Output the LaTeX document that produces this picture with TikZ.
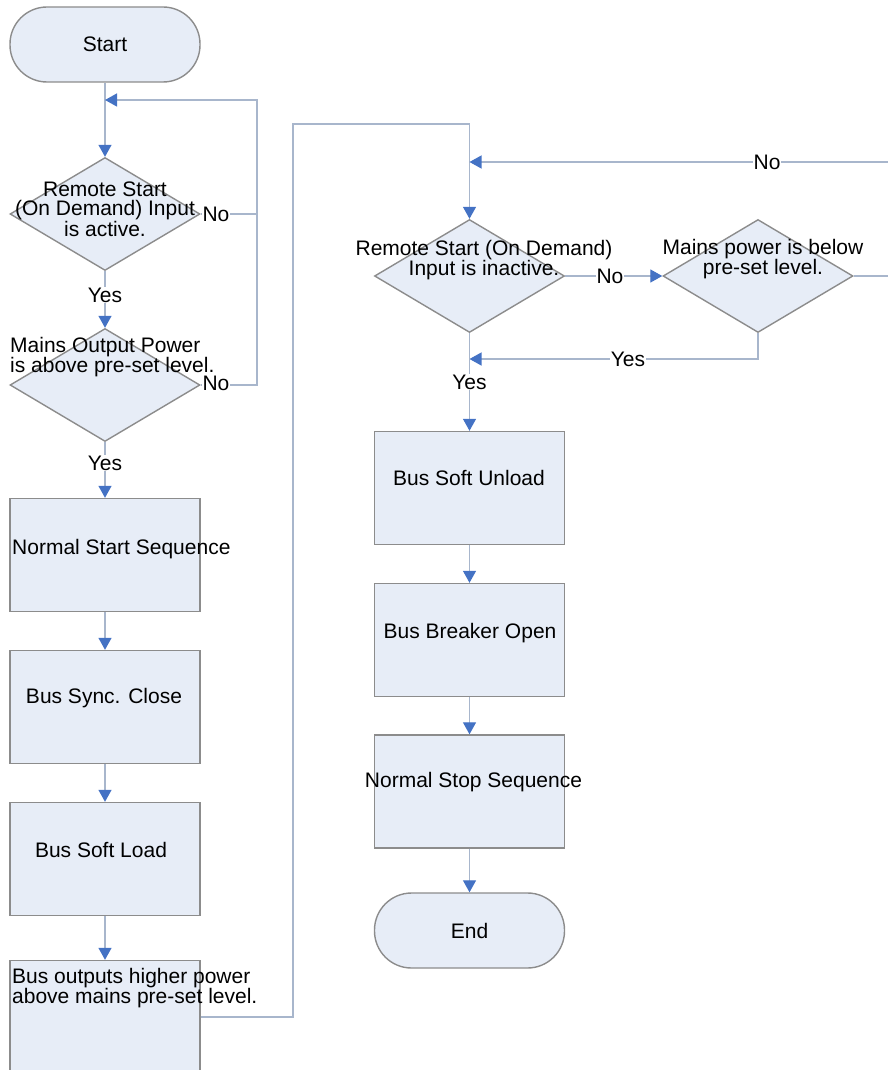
\documentclass[tikz,border=0pt]{standalone}
\usepackage{fontspec}
\setmainfont{Liberation Sans}
\usetikzlibrary{shapes.geometric,arrows.meta}
\definecolor{boxfill}{RGB}{231,237,247}
\definecolor{boxline}{RGB}{140,140,140}
\definecolor{connc}{RGB}{168,182,204}
\definecolor{tipblue}{RGB}{68,114,196}
\begin{document}
\begin{tikzpicture}[x=1pt,y=-1pt,
  every node/.style={font=\fontsize{21}{19}\selectfont, text=black},
  proc/.style={draw=boxline, fill=boxfill, line width=1.4pt, minimum width=190pt, minimum height=113pt, inner sep=0pt},
  decide/.style={diamond, draw=boxline, fill=boxfill, line width=1.4pt, minimum width=190pt, minimum height=113pt, inner sep=0pt},
  term/.style={draw=boxline, fill=boxfill, line width=1.4pt, rounded corners=37pt, minimum width=190pt, minimum height=75pt, inner sep=0pt},
  txt/.style={inner sep=0pt, align=center},
  lbl/.style={fill=white, inner sep=1pt},
  conn/.style={draw=connc, line width=1.3pt},
  arr/.style={conn, -{Triangle[length=12pt,width=13pt,color=tipblue]}}
]
\useasboundingbox (0,0) rectangle (888,1070);
\clip (0,0) rectangle (888,1070);

% shapes
\node[term] (start) at (105,44.5) {Start};
\node[decide] (d1) at (105,214) {};
\node[decide] (d2) at (105,385) {};
\node[proc] (b1) at (105,555) {};
\node[proc] (b2) at (105,707) {};
\node[proc] (b3) at (105,859) {};
\node[proc] (b4) at (105,1017) {};
\node[decide] (d3) at (469.5,276) {};
\node[decide] (d4) at (758,276) {};
\node[proc] (b5) at (469.5,488) {};
\node[proc] (b6) at (469.5,640) {};
\node[proc] (b7) at (469.5,791.5) {};
\node[term] (end) at (469.5,930.5) {End};

% junctions
\coordinate (j1) at (105,100);
\coordinate (c1) at (257,100);
\coordinate (c2) at (293,124);
\coordinate (c3) at (469.5,124);
\coordinate (c4) at (910,162);
\coordinate (j3) at (469.5,162);
\coordinate (j4) at (469.5,359);

% connectors
\draw[arr] (start.south) -- (d1.north);
\draw[arr] (d1.east) -| (c1) -- (j1);
\draw[conn] (d2.east) -| (c1);
\draw[arr] (d1.south) -- (d2.north);
\draw[arr] (d2.south) -- (b1.north);
\draw[arr] (b1.south) -- (b2.north);
\draw[arr] (b2.south) -- (b3.north);
\draw[arr] (b3.south) -- (b4.north);
\draw[arr] (b4.east) -| (c2) -- (c3) -- (d3.north);
\draw[arr] (d3.east) -- (d4.west);
\draw[arr] (d4.east) -| (c4) -- (j3);
\draw[arr] (d4.south) |- (j4);
\draw[arr] (d3.south) -- (b5.north);
\draw[arr] (b5.south) -- (b6.north);
\draw[arr] (b6.south) -- (b7.north);
\draw[arr] (b7.south) -- (end.north);

% texts
\node[txt] (t1) at (105,209) {Remote Start\\(On Demand) Input\\is active.};
\node[txt, align=left, anchor=west] (t2) at (10,357) {Mains Output Power\\is above pre-set level.};
\node[txt, anchor=west] (t3) at (12,549) {Normal Start Sequence};
\node[txt] (t4) at (104,698) {Bus Sync. Close};
\node[txt] (t5) at (101,850) {Bus Soft Load};
\node[txt, align=left, anchor=west] (t6) at (12,988) {Bus outputs higher power\\above mains pre-set level.};
\node[txt] (t7) at (484,260) {Remote Start (On Demand)\\Input is inactive.};
\node[txt] (t8) at (763,259) {Mains power is below\\pre-set level.};
\node[txt] (t9) at (469,478) {Bus Soft Unload};
\node[txt] (t10) at (470,633) {Bus Breaker Open};
\node[txt] (t11) at (473.5,782) {Normal Stop Sequence};

% labels
\node[lbl] (no1) at (216,214) {No};
\node[lbl] (no2) at (216,383) {No};
\node[lbl] (y1) at (105,295) {Yes};
\node[lbl] (y2) at (105,463) {Yes};
\node[lbl] (no3) at (610,276) {No};
\node[lbl] (no4) at (767,162) {No};
\node[lbl] (y4) at (628,359) {Yes};
\node[lbl] (y3) at (469.5,382) {Yes};
\end{tikzpicture}
\end{document}
